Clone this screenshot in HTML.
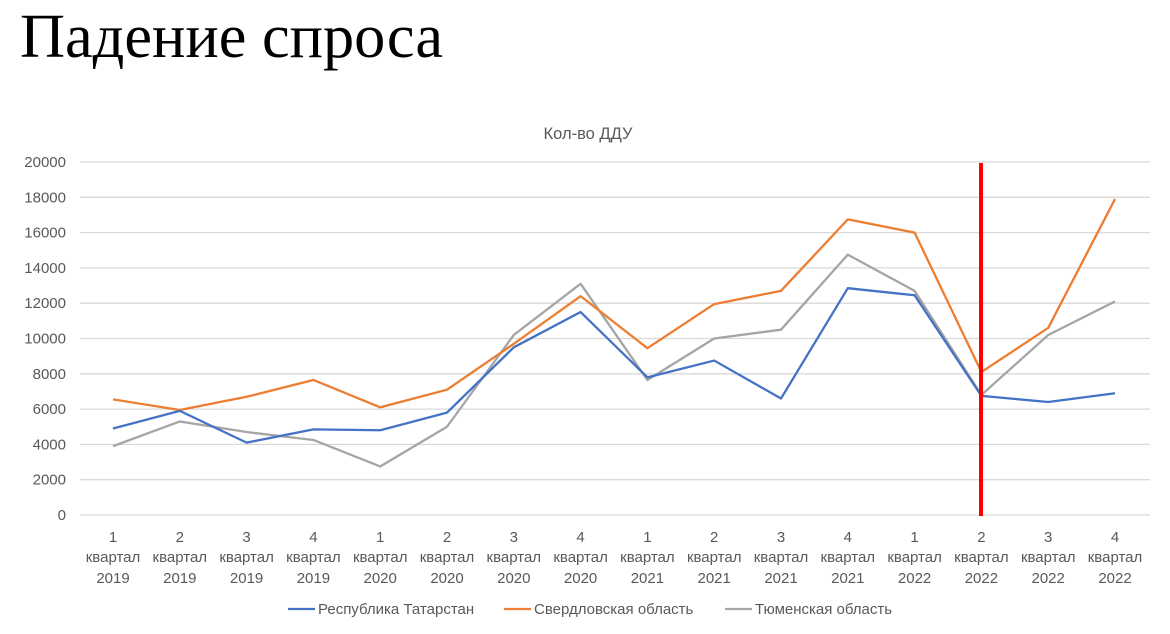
<!DOCTYPE html>
<html><head><meta charset="utf-8"><style>
body{margin:0;background:#fff;width:1170px;height:629px;overflow:hidden}
</style></head><body>
<svg width="1170" height="629" xmlns="http://www.w3.org/2000/svg" font-family="Liberation Sans, DejaVu Sans, sans-serif">
<text x="20" y="57" font-family="Liberation Serif, serif" font-size="62" fill="#000" textLength="423" lengthAdjust="spacingAndGlyphs">Падение спроса</text>
<text x="588" y="139" text-anchor="middle" font-size="16.5" fill="#595959">Кол-во ДДУ</text>
<g id="grid" stroke="#d9d9d9" stroke-width="1.3"></g>
<g id="ylab" font-size="15" fill="#595959" text-anchor="end"></g>
<g id="xlab" font-size="15" fill="#595959" text-anchor="middle"></g>
<g id="lines" fill="none" stroke-width="2.3" stroke-linejoin="round"></g>
<line x1="981" y1="163" x2="981" y2="516" stroke="#ff0000" stroke-width="4"/>
<g font-size="15" fill="#595959">
<line x1="288" y1="609" x2="315" y2="609" stroke="#4472c4" stroke-width="2.3"/>
<text x="318" y="614">Республика Татарстан</text>
<line x1="504" y1="609" x2="531" y2="609" stroke="#ed7d31" stroke-width="2.3"/>
<text x="534" y="614">Свердловская область</text>
<line x1="725" y1="609" x2="752" y2="609" stroke="#a5a5a5" stroke-width="2.3"/>
<text x="755" y="614">Тюменская область</text>
</g>
</svg>
<script>
const NS="http://www.w3.org/2000/svg";
const y0=515,yk=(515-162)/20000,x0=113,dx=(1115-113)/15;
const Y=v=>y0-v*yk,X=i=>x0+i*dx;
const g=document.getElementById('grid'),yl=document.getElementById('ylab'),xl=document.getElementById('xlab'),L=document.getElementById('lines');
function el(p,t,a,txt){const e=document.createElementNS(NS,t);for(const k in a)e.setAttribute(k,a[k]);if(txt!=null)e.textContent=txt;p.appendChild(e);return e;}
for(let v=0;v<=20000;v+=2000){el(g,'line',{x1:80,x2:1150,y1:Y(v),y2:Y(v)});el(yl,'text',{x:66,y:Y(v)+5},v);}
const q=['1','2','3','4'];
for(let i=0;i<16;i++){const yr=2019+Math.floor(i/4);el(xl,'text',{x:X(i),y:542},q[i%4]);el(xl,'text',{x:X(i),y:562},'квартал');el(xl,'text',{x:X(i),y:583},yr);}
const S=[
['#a5a5a5',[3900,5300,4700,4250,2750,5000,10200,13100,7650,10000,10500,14750,12700,6800,10200,12100]],
['#ed7d31',[6550,5950,6700,7650,6100,7100,9700,12400,9450,11950,12700,16750,16000,8100,10600,17900]],
['#4472c4',[4900,5900,4100,4850,4800,5800,9500,11500,7800,8750,6600,12850,12450,6750,6400,6900]]];
for(const [c,d] of S){el(L,'polyline',{stroke:c,points:d.map((v,i)=>X(i)+','+Y(v)).join(' ')});}
</script>
</body></html>
